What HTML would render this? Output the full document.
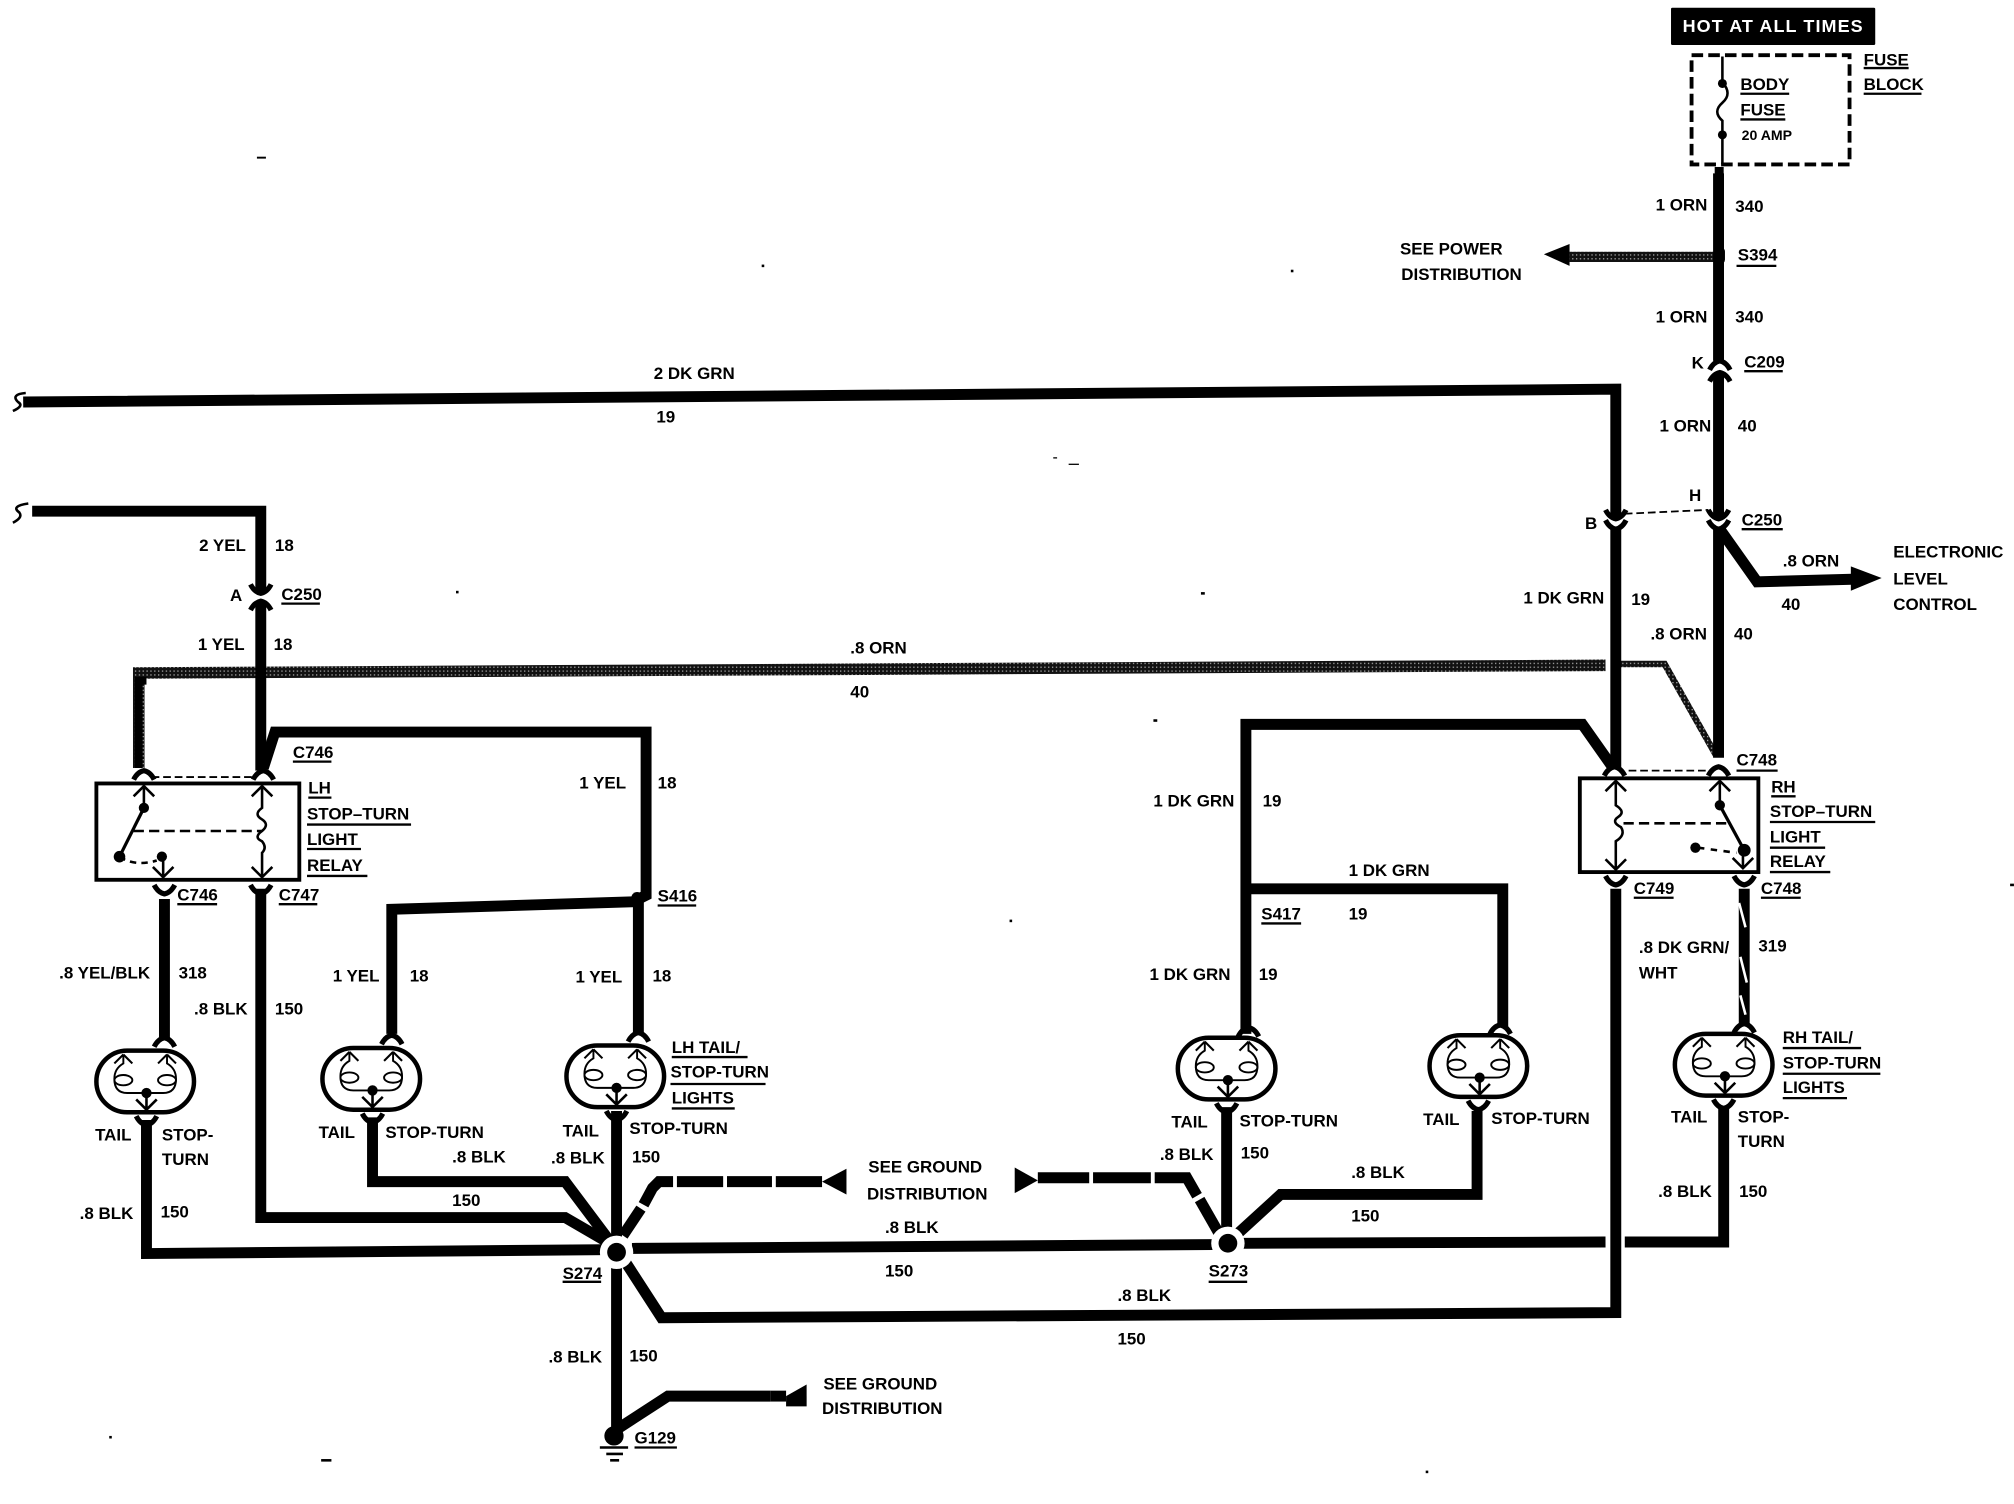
<!DOCTYPE html>
<html><head><meta charset="utf-8"><style>
html,body{margin:0;padding:0;background:#fff}
svg{display:block}
text{font-family:"Liberation Sans",sans-serif;font-weight:bold;font-size:13.2px;letter-spacing:0;fill:#000}
</style></head><body>
<svg width="2014" height="1504" viewBox="0 0 1568 1171" xmlns="http://www.w3.org/2000/svg">
<defs>
<pattern id="d" width="3" height="3" patternUnits="userSpaceOnUse"><rect width="3" height="3" fill="#111"/><rect width="1" height="1" fill="#aaa"/></pattern>
<g id="oval" fill="none" stroke="#000">
<rect x="-38" y="-24" width="76" height="48" rx="24" ry="24" stroke-width="3.5"/>
<path d="M-17-21l-7 7M-17-21l7 7M17-21l-7 7M17-21l7 7" stroke-width="1.6"/>
<path d="M-17-21V-14Q-24-10-24-2Q-24 9-14 9H14Q24 9 24-2Q24-10 17-14V-21" stroke-width="1.5"/>
<ellipse cx="-17" cy="-1" rx="7" ry="4" stroke-width="1.5"/><ellipse cx="17" cy="-1" rx="7" ry="4" stroke-width="1.5"/>
<circle cx="1" cy="9" r="4" fill="#000" stroke="none"/>
<path d="M1 9V23M1 22l-8-8M1 22l8-8" stroke-width="2"/>
</g>
<path id="cd" d="M-8 6Q-5 0 0-1Q5 0 8 6" fill="none" stroke="#000" stroke-width="4"/>
<path id="cu" d="M-8-6Q-5 0 0 1Q5 0 8-6" fill="none" stroke="#000" stroke-width="4"/>
</defs>

<!-- gray halftone wires -->
<g fill="none" stroke="url(#d)" stroke-linejoin="miter">
<path d="M108 598V524L1250 518" stroke-width="9"/>
<path d="M1262 517H1296L1336 588" stroke-width="5"/>
<path d="M1336 200L1222 200" stroke-width="8"/>
</g>
<path d="M108 598V530H114" fill="none" stroke="#000" stroke-width="6"/>
<path d="M1202 198L1222 190V207Z" fill="#000"/>

<!-- solid wires -->
<g fill="none" stroke="#000" stroke-width="8.5" stroke-linejoin="miter">
<path d="M18 313L1258 303V403"/>
<path d="M25 398H203V461M203 469V600"/>
<path d="M205 598L214 570H503V697L497 700V804"/>
<path d="M497 702L305 708V805"/>
<path d="M1338 135V281M1338 291V403M1338 411V590"/>
<path d="M1339 412L1368 453L1442 451"/>
<path d="M1258 411V598"/>
<path d="M970 805V564H1232L1256 598"/>
<path d="M970 692H1170V800"/>
<path d="M1258 692V1022L515 1026L482 975"/>
<path d="M128 700V808"/>
<path d="M203 692V948H440L478 970"/>
<path d="M114 872V976L470 973"/>
<path d="M492 972L944 969M968 968L1250 967M1265 967H1342V862"/>
<path d="M290 870V920H440L476 968"/>
<path d="M480 865V1115"/>
<path d="M955 862V965"/>
<path d="M1150 865V930H997L962 962"/>
<path d="M480 1113L520 1087H600"/>
<path d="M1358 692V798"/>
</g>
<g stroke="#fff" stroke-width="2"><path d="M1354 703L1359 722M1355 745L1360 765M1355 775L1359 790"/></g>

<!-- dashed ground wires -->
<g fill="none" stroke="#000" stroke-width="8.5">
<path d="M485 962L499 941"/>
<path d="M501 938L508 925L513 920H524M527 920H563M566 920H601M604 920H640"/>
<path d="M808 917H848M851 917H896M899 917H924L932 931"/>
<path d="M934 934L950 962"/>
<path d="M600 1087H612"/>
</g>
<g fill="#000">
<path d="M640 920L659 910V930Z"/>
<path d="M808 919L790 909V929Z"/>
<path d="M612 1087L628 1078V1095H612Z"/>
<path d="M1465 450L1441 441V460Z"/>
</g>

<!-- connectors -->
<use href="#cd" x="1339" y="282"/><use href="#cd" x="1339" y="291"/>
<use href="#cu" x="1258" y="403"/><use href="#cu" x="1258" y="411"/>
<use href="#cu" x="1338" y="403"/><use href="#cu" x="1338" y="411"/>
<use href="#cu" x="203" y="461"/><use href="#cd" x="203" y="469"/>
<use href="#cd" x="112" y="601"/><use href="#cd" x="205" y="601"/>
<use href="#cd" x="1257" y="598"/><use href="#cd" x="1338" y="598"/>
<use href="#cu" x="128" y="695"/><use href="#cu" x="203" y="695"/>
<use href="#cu" x="1258" y="688"/><use href="#cu" x="1358" y="688"/>
<use href="#cd" x="128" y="809"/><use href="#cd" x="305" y="807"/><use href="#cd" x="497" y="805"/>
<use href="#cd" x="972" y="801"/><use href="#cd" x="1168" y="799"/><use href="#cd" x="1358" y="798"/>
<use href="#cu" x="114" y="875"/><use href="#cu" x="290" y="873"/><use href="#cu" x="480" y="871"/>
<use href="#cu" x="955" y="865"/><use href="#cu" x="1151" y="863"/><use href="#cu" x="1342" y="862"/>

<!-- dash links -->
<g fill="none" stroke="#000" stroke-width="1.4" stroke-dasharray="6 3">
<path d="M1265 400L1330 397"/>
<path d="M118 605H198"/>
<path d="M1268 600H1330"/>
</g>

<rect x="1335" y="192" width="8" height="14" rx="4"/>

<!-- left relay -->
<rect x="75" y="610" width="158" height="75" fill="#fff" stroke="#000" stroke-width="3"/>
<g fill="none" stroke="#000" stroke-width="2">
<path d="M112 612V629M104 620L112 612L120 620"/>
<path d="M112 629L93 667" stroke-width="2.5"/>
<path d="M204 612V629Q197 634 204 638Q210 642 204 647Q197 652 204 655Q208 660 204 664V683M196 620L204 612L212 620M196 675L204 683L212 675"/>
<path d="M93 667Q105 675 122 670" stroke-dasharray="5 4"/>
<path d="M127 667V683M119 675L127 683L135 675"/>
<path d="M104 647H204" stroke-dasharray="8 4"/>
</g>
<circle cx="112" cy="629" r="4"/><circle cx="93" cy="667" r="4.5"/><circle cx="126" cy="667" r="4"/>

<!-- right relay -->
<rect x="1230" y="606" width="139" height="73" fill="#fff" stroke="#000" stroke-width="3"/>
<g fill="none" stroke="#000" stroke-width="2">
<path d="M1258 608V627Q1266 632 1260 636Q1254 640 1262 644Q1266 650 1258 655V677M1250 616L1258 608L1266 616M1250 669L1258 677L1266 669"/>
<path d="M1339 608V627M1331 616L1339 608L1347 616"/>
<path d="M1339 627L1358 662" stroke-width="2.5"/>
<path d="M1322 660L1352 664" stroke-dasharray="5 5"/>
<path d="M1357 662V676M1349 668L1357 676L1365 668"/>
<path d="M1264 641H1344" stroke-dasharray="8 4"/>
</g>
<circle cx="1339" cy="627" r="4"/><circle cx="1320" cy="660" r="4"/><circle cx="1358" cy="662" r="5"/>

<!-- ovals -->
<use href="#oval" x="113" y="842"/><use href="#oval" x="289" y="840"/><use href="#oval" x="479" y="838"/>
<use href="#oval" x="955" y="832"/><use href="#oval" x="1151" y="830"/><use href="#oval" x="1342" y="829"/>

<!-- splices -->
<circle cx="480" cy="975" r="13" fill="#fff"/><circle cx="480" cy="975" r="7.3"/>
<circle cx="956" cy="968" r="13" fill="#fff"/><circle cx="956" cy="968" r="7.3"/>
<circle cx="496" cy="699" r="4.5"/>

<!-- ground -->
<circle cx="478" cy="1118" r="7.5"/>
<path d="M467 1127H489M472 1132H485M475 1137H482" stroke="#000" stroke-width="2"/>

<!-- squiggles -->
<path d="M20 306Q8 307 14 313Q19 316 10 320M22 392Q8 394 15 399Q18 403 10 407" fill="none" stroke="#000" stroke-width="2"/>

<!-- fuse -->
<rect x="1301" y="6" width="159" height="29" rx="1"/>
<text x="1310" y="25" style="fill:#fff;font-size:14px;letter-spacing:.85px">HOT AT ALL TIMES</text>
<rect x="1317" y="43" width="123" height="85" fill="none" stroke="#000" stroke-width="3" stroke-dasharray="9 4"/>
<path d="M1341 44V64" stroke="#000" stroke-width="2"/>
<path d="M1341 64Q1349 73 1341 80Q1333 87 1341 94V128" fill="none" stroke="#000" stroke-width="2"/>
<circle cx="1341" cy="65" r="3.5"/><circle cx="1341" cy="105" r="3.5"/>
<rect x="1335" y="130" width="7" height="9"/>

<!-- underlines -->
<path stroke="#000" stroke-width="1.8" d="M1451 53H1486M1451 73H1496M1355 73H1393M1355 93H1390M1352 207H1383M1358 289H1388M1356 412H1388M219 470H249M228 593H258M240 621H258M239 642H320M239 661H281M239 682H286M138 704H169M217 704H247M512 705H542M982 719H1013M1352 600H1384M1379 620H1398M1378 640H1460M1378 660H1421M1378 679H1425M1272 699H1303M1371 699H1402M523 823H582M522 844H596M523 863H572M1388 816H1449M1388 836H1464M1388 855H1438M438 998H468M941 998H971M494 1127H527"/>

<!-- labels -->
<text x="1451" y="51">FUSE</text><text x="1451" y="70">BLOCK</text>
<text x="1355" y="70">BODY</text><text x="1355" y="90">FUSE</text>
<text x="1356" y="109" style="font-size:11px">20 AMP</text>
<text x="1289" y="164">1 ORN</text><text x="1351" y="165">340</text>
<text x="1090" y="198">SEE POWER</text><text x="1091" y="218">DISTRIBUTION</text>
<text x="1353" y="203">S394</text>
<text x="1289" y="251">1 ORN</text><text x="1351" y="251">340</text>
<text x="1317" y="287">K</text><text x="1358" y="286">C209</text>
<text x="1292" y="336">1 ORN</text><text x="1353" y="336">40</text>
<text x="1315" y="390">H</text><text x="1356" y="409">C250</text>
<text x="1234" y="412">B</text>
<text x="1388" y="441">.8 ORN</text><text x="1387" y="475">40</text>
<text x="1474" y="434">ELECTRONIC</text><text x="1474" y="455">LEVEL</text><text x="1474" y="475">CONTROL</text>
<text x="1186" y="470">1 DK GRN</text><text x="1270" y="471">19</text>
<text x="1285" y="498">.8 ORN</text><text x="1350" y="498">40</text>
<text x="509" y="295">2 DK GRN</text><text x="511" y="329">19</text>
<text x="155" y="429">2 YEL</text><text x="214" y="429">18</text>
<text x="179" y="468">A</text><text x="219" y="467">C250</text>
<text x="154" y="506">1 YEL</text><text x="213" y="506">18</text>
<text x="662" y="509">.8 ORN</text><text x="662" y="543">40</text>
<text x="228" y="590">C746</text>
<text x="240" y="618">LH</text><text x="239" y="638">STOP–TURN</text><text x="239" y="658">LIGHT</text><text x="239" y="678">RELAY</text>
<text x="451" y="614">1 YEL</text><text x="512" y="614">18</text>
<text x="138" y="701">C746</text><text x="217" y="701">C747</text><text x="512" y="702">S416</text>
<text x="46" y="762">.8 YEL/BLK</text><text x="139" y="762">318</text>
<text x="151" y="790">.8 BLK</text><text x="214" y="790">150</text>
<text x="259" y="764">1 YEL</text><text x="319" y="764">18</text>
<text x="448" y="765">1 YEL</text><text x="508" y="764">18</text>
<text x="523" y="820">LH TAIL/</text><text x="522" y="839">STOP-TURN</text><text x="523" y="859">LIGHTS</text>
<text x="74" y="888">TAIL</text><text x="126" y="888">STOP-</text><text x="126" y="907">TURN</text>
<text x="248" y="886">TAIL</text><text x="300" y="886">STOP-TURN</text>
<text x="438" y="885">TAIL</text><text x="490" y="883">STOP-TURN</text>
<text x="352" y="905">.8 BLK</text><text x="429" y="906">.8 BLK</text><text x="492" y="905">150</text>
<text x="676" y="913">SEE GROUND</text><text x="675" y="934">DISTRIBUTION</text>
<text x="352" y="939">150</text>
<text x="62" y="949">.8 BLK</text><text x="125" y="948">150</text>
<text x="689" y="960">.8 BLK</text><text x="689" y="994">150</text>
<text x="438" y="996">S274</text><text x="941" y="994">S273</text>
<text x="870" y="1013">.8 BLK</text><text x="870" y="1047">150</text>
<text x="427" y="1061">.8 BLK</text><text x="490" y="1060">150</text>
<text x="641" y="1082">SEE GROUND</text><text x="640" y="1101">DISTRIBUTION</text>
<text x="494" y="1124">G129</text>
<text x="898" y="628">1 DK GRN</text><text x="983" y="628">19</text>
<text x="1050" y="682">1 DK GRN</text><text x="1050" y="716">19</text>
<text x="982" y="716">S417</text>
<text x="895" y="763">1 DK GRN</text><text x="980" y="763">19</text>
<text x="912" y="878">TAIL</text><text x="965" y="877">STOP-TURN</text>
<text x="1108" y="876">TAIL</text><text x="1161" y="875">STOP-TURN</text>
<text x="903" y="903">.8 BLK</text><text x="966" y="902">150</text>
<text x="1052" y="917">.8 BLK</text><text x="1052" y="951">150</text>
<text x="1352" y="596">C748</text>
<text x="1379" y="617">RH</text><text x="1378" y="636">STOP–TURN</text><text x="1378" y="656">LIGHT</text><text x="1378" y="675">RELAY</text>
<text x="1272" y="696">C749</text><text x="1371" y="696">C748</text>
<text x="1276" y="742">.8 DK GRN/</text><text x="1276" y="762">WHT</text><text x="1369" y="741">319</text>
<text x="1388" y="812">RH TAIL/</text><text x="1388" y="832">STOP-TURN</text><text x="1388" y="851">LIGHTS</text>
<text x="1301" y="874">TAIL</text><text x="1353" y="874">STOP-</text><text x="1353" y="893">TURN</text>
<text x="1291" y="932">.8 BLK</text><text x="1354" y="932">150</text>

<!-- specks -->
<g fill="#000"><rect x="200" y="122" width="7" height="1.5"/><rect x="250" y="1136" width="8" height="2"/><rect x="1565" y="688" width="3" height="2"/><rect x="935" y="461" width="3" height="2"/><rect x="898" y="560" width="3" height="2"/><rect x="1005" y="210" width="2" height="2"/><rect x="593" y="206" width="2" height="2"/><rect x="355" y="460" width="2" height="2"/><rect x="820" y="356" width="3" height="1"/><rect x="832" y="361" width="8" height="1"/><rect x="786" y="716" width="2" height="2"/><rect x="1110" y="1145" width="2" height="2"/><rect x="85" y="1118" width="2" height="2"/></g>
</svg>
</body></html>
